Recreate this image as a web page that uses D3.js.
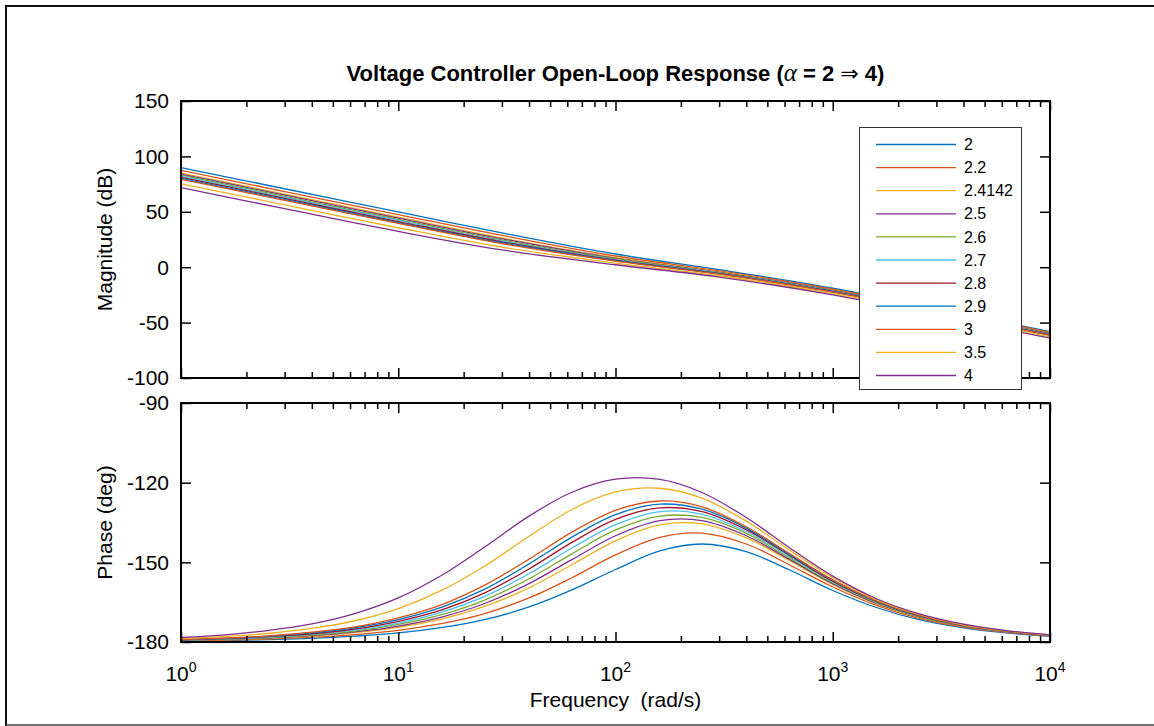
<!DOCTYPE html>
<html>
<head>
<meta charset="utf-8">
<script src="https://cdn.jsdelivr.net/npm/d3@7"></script>
<style>
  body { margin: 0; background: #fff; }
  svg text { font-family: "Liberation Sans", Arial, Helvetica, sans-serif; fill: #000; }
</style>
</head>
<body>
<div class="chart"></div>
<script>
// legend entries (alpha) and matlab default colour order
const alphas = ["2", "2.2", "2.4142", "2.5", "2.6", "2.7", "2.8", "2.9", "3", "3.5", "4"];
const colors = ["#0072BD", "#D95319", "#EDB120", "#7E2F8E", "#77AC30", "#4DBEEE",
                "#A2142F", "#0072BD", "#D95319", "#EDB120", "#7E2F8E"];

// magnitude (dB) read at these frequencies
const magFreq = [1, 3, 10, 30, 100, 300, 1000, 3000, 10000];
const mag_2    = [89.9, 70.8, 49.9, 31.0, 11.9, -2.2, -19.0, -37.3, -58.1];
const mag_2_2  = [87.4, 68.3, 47.5, 28.7, 10.1, -3.3, -19.8, -38.1, -58.9];
const mag_2_41 = [85.0, 65.9, 45.1, 26.4, 8.6, -4.2, -20.6, -38.9, -59.7];
const mag_2_5  = [84.1, 65.0, 44.2, 25.6, 8.0, -4.6, -20.9, -39.2, -60.0];
const mag_2_6  = [83.1, 64.0, 43.1, 24.6, 7.4, -4.9, -21.3, -39.5, -60.4];
const mag_2_7  = [82.1, 63.0, 42.2, 23.7, 6.9, -5.3, -21.6, -39.9, -60.7];
const mag_2_8  = [81.1, 62.1, 41.2, 22.9, 6.4, -5.7, -21.9, -40.2, -61.0];
const mag_2_9  = [80.2, 61.2, 40.3, 22.1, 5.9, -6.0, -22.2, -40.5, -61.3];
const mag_3    = [79.3, 60.3, 39.5, 21.3, 5.4, -6.3, -22.5, -40.8, -61.6];
const mag_3_5  = [75.3, 56.3, 35.6, 18.1, 3.6, -7.7, -23.9, -42.1, -62.9];
const mag_4    = [71.8, 52.8, 32.3, 15.6, 2.2, -8.9, -25.0, -43.3, -64.1];

// phase (deg) read at these frequencies
const phaseFreq = [1, 1.6, 2.5, 4, 6.3, 10, 16, 25, 40, 63, 100, 160, 250, 400, 630, 1000, 1600, 2500, 4000, 6300, 10000];
const ph_2    = [-179.7, -179.5, -179.1, -178.6, -177.8, -176.6, -174.5, -171.6, -166.8, -160.4, -152.7, -145.7, -143.1, -146.0, -152.8, -160.6, -167.1, -171.6, -174.7, -176.6, -177.9];
const ph_2_2  = [-179.6, -179.3, -178.9, -178.2, -177.2, -175.6, -173.0, -169.3, -163.4, -155.8, -147.2, -140.6, -139.0, -143.1, -150.9, -159.3, -166.3, -171.1, -174.4, -176.4, -177.7];
const ph_2_41 = [-179.4, -179.1, -178.6, -177.8, -176.5, -174.5, -171.3, -166.6, -159.6, -150.9, -141.9, -135.9, -135.5, -140.8, -149.3, -158.3, -165.7, -170.7, -174.1, -176.2, -177.6];
const ph_2_5  = [-179.4, -179.0, -178.5, -177.6, -176.2, -174.0, -170.5, -165.5, -158.0, -149.0, -140.0, -134.3, -134.3, -140.0, -148.8, -158.0, -165.5, -170.5, -174.0, -176.2, -177.6];
const ph_2_6  = [-179.3, -178.9, -178.4, -177.4, -175.9, -173.4, -169.6, -164.2, -156.2, -146.8, -137.8, -132.6, -133.1, -139.1, -148.3, -157.7, -165.3, -170.4, -173.9, -176.1, -177.6];
const ph_2_7  = [-179.3, -178.8, -178.2, -177.1, -175.5, -172.9, -168.7, -162.8, -154.3, -144.6, -135.8, -130.9, -131.9, -138.4, -147.8, -157.4, -165.1, -170.3, -173.9, -176.1, -177.5];
const ph_2_8  = [-179.2, -178.7, -178.0, -176.9, -175.1, -172.2, -167.8, -161.5, -152.5, -142.5, -133.8, -129.5, -130.9, -137.7, -147.3, -157.1, -164.9, -170.2, -173.8, -176.0, -177.5];
const ph_2_9  = [-179.2, -178.6, -177.9, -176.6, -174.7, -171.6, -166.8, -160.1, -150.6, -140.5, -132.0, -128.1, -130.0, -137.1, -147.0, -156.8, -164.8, -170.1, -173.7, -176.0, -177.5];
const ph_3    = [-179.1, -178.5, -177.7, -176.3, -174.3, -170.9, -165.8, -158.6, -148.8, -138.6, -130.4, -126.9, -129.1, -136.6, -146.6, -156.6, -164.6, -170.0, -173.7, -176.0, -177.5];
const ph_3_5  = [-178.7, -177.9, -176.8, -174.9, -172.0, -167.4, -160.4, -151.4, -140.2, -130.1, -123.5, -122.1, -125.8, -134.5, -145.3, -155.8, -164.1, -169.6, -173.5, -175.8, -177.4];
const ph_4    = [-178.3, -177.3, -175.7, -173.2, -169.3, -163.4, -154.7, -144.2, -132.6, -123.6, -118.7, -118.8, -123.7, -133.1, -144.4, -155.2, -163.8, -169.4, -173.3, -175.7, -177.3];

const magTicks = [-100, -50, 0, 50, 100, 150];
const phaseTicks = [-180, -150, -120, -90];
const freqTicks = [1, 10, 100, 1000, 10000];

const magSeries = [mag_2, mag_2_2, mag_2_41, mag_2_5, mag_2_6, mag_2_7, mag_2_8, mag_2_9, mag_3, mag_3_5, mag_4];
const phaseSeries = [ph_2, ph_2_2, ph_2_41, ph_2_5, ph_2_6, ph_2_7, ph_2_8, ph_2_9, ph_3, ph_3_5, ph_4];

const W = 1154, H = 726;
const x0 = 181, x1 = 1050;

const svg = d3.select(".chart").append("svg")
  .attr("width", W).attr("height", H)
  .style("display", "block");

svg.append("rect").attr("width", W).attr("height", H).attr("fill", "#fff");

// figure frame (top / left edges, bottom edge slightly grey)
svg.append("path").attr("d", `M6,${H}V6H${W}`)
  .attr("fill", "none").attr("stroke", "#111").attr("stroke-width", 2);
svg.append("line").attr("x1", 6).attr("x2", W).attr("y1", 725).attr("y2", 725)
  .attr("stroke", "#444").attr("stroke-width", 1.5);

const x = d3.scaleLog().domain([1, 10000]).range([x0, x1]);

// minor tick positions 2..9 in each decade
const minorTicks = [];
freqTicks.slice(0, -1).forEach(d => { for (let k = 2; k < 10; k++) minorTicks.push(d * k); });

function drawPanel(id, top, bottom, domain, yTicks, freq, series) {
  const y = d3.scaleLinear().domain(domain).range([bottom, top]);
  const g = svg.append("g");

  g.append("clipPath").attr("id", id)
    .append("rect").attr("x", x0).attr("y", top).attr("width", x1 - x0).attr("height", bottom - top);

  const line = d3.line()
    .x((d, i) => x(freq[i]))
    .y(d => y(d))
    .curve(d3.curveCatmullRom.alpha(0.5));

  g.append("g").attr("clip-path", `url(#${id})`)
    .selectAll("path")
    .data(series)
    .join("path")
    .attr("d", line)
    .attr("fill", "none")
    .attr("stroke", (d, i) => colors[i])
    .attr("stroke-width", 1.3);

  const ax = (gen, tr) => g.append("g").attr("transform", tr).call(gen)
    .call(s => s.select(".domain").remove())
    .call(s => s.selectAll("text").remove())
    .call(s => s.selectAll("line").attr("stroke", "#000").attr("stroke-width", 1.5));

  ax(d3.axisBottom(x).tickValues(freqTicks).tickSize(-10), `translate(0,${bottom})`);
  ax(d3.axisBottom(x).tickValues(minorTicks).tickSize(-6), `translate(0,${bottom})`);
  ax(d3.axisTop(x).tickValues(freqTicks).tickSize(-10), `translate(0,${top})`);
  ax(d3.axisTop(x).tickValues(minorTicks).tickSize(-6), `translate(0,${top})`);
  ax(d3.axisLeft(y).tickValues(yTicks).tickSize(-10), `translate(${x0},0)`);
  ax(d3.axisRight(y).tickValues(yTicks).tickSize(-10), `translate(${x1},0)`);

  g.append("rect")
    .attr("x", x0).attr("y", top)
    .attr("width", x1 - x0).attr("height", bottom - top)
    .attr("fill", "none").attr("stroke", "#000").attr("stroke-width", 2);

  g.append("g").selectAll("text")
    .data(yTicks)
    .join("text")
    .attr("x", x0 - 12)
    .attr("y", d => y(d))
    .attr("dy", "0.35em")
    .attr("text-anchor", "end")
    .style("font-size", "21px")
    .text(d => d);

  return y;
}

drawPanel("clipMag", 101, 378, [-100, 150], magTicks, magFreq, magSeries);
drawPanel("clipPhase", 403, 642, [-180, -90], phaseTicks, phaseFreq, phaseSeries);

// x tick labels 10^n on the lower axes
const xl = svg.append("g").selectAll("text")
  .data(freqTicks)
  .join("text")
  .attr("x", d => x(d))
  .attr("y", 681)
  .attr("text-anchor", "middle")
  .style("font-size", "21px");
xl.append("tspan").text("10");
xl.append("tspan").attr("dy", -9).style("font-size", "14px").text(d => Math.round(Math.log10(d)));

// axis labels
svg.append("text")
  .attr("transform", `translate(112,${(101 + 378) / 2}) rotate(-90)`)
  .attr("text-anchor", "middle")
  .style("font-size", "21px")
  .text("Magnitude (dB)");

svg.append("text")
  .attr("transform", `translate(112,${(403 + 642) / 2}) rotate(-90)`)
  .attr("text-anchor", "middle")
  .style("font-size", "21px")
  .text("Phase (deg)");

svg.append("text")
  .attr("x", (x0 + x1) / 2)
  .attr("y", 707)
  .attr("text-anchor", "middle")
  .style("font-size", "21px")
  .style("white-space", "pre")
  .text("Frequency  (rad/s)");

// title
const title = svg.append("text")
  .attr("x", (x0 + x1) / 2)
  .attr("y", 81)
  .attr("text-anchor", "middle")
  .style("font-size", "22px")
  .style("font-weight", "bold");
title.append("tspan").text("Voltage Controller Open-Loop Response (");
title.append("tspan").style("font-family", "'Liberation Serif', 'DejaVu Serif', serif")
  .style("font-style", "italic").style("font-weight", "normal").style("font-size", "25px").text("\u03b1");
title.append("tspan").text(" = 2 ");
title.append("tspan").style("font-family", "'DejaVu Sans', sans-serif").style("font-weight", "normal")
  .style("font-size", "22px").text("\u21d2");
title.append("tspan").text(" 4)");

// legend
const lg = svg.append("g");
lg.append("rect")
  .attr("x", 859.5).attr("y", 127.5)
  .attr("width", 162).attr("height", 262)
  .attr("fill", "#fff").attr("stroke", "#333").attr("stroke-width", 1);

const rowY = d3.scaleLinear().domain([0, alphas.length - 1]).range([144.5, 375.5]);
const rows = lg.selectAll("g.row")
  .data(alphas)
  .join("g")
  .attr("class", "row")
  .attr("transform", (d, i) => `translate(0,${rowY(i)})`);
rows.append("line")
  .attr("x1", 876).attr("x2", 956)
  .attr("stroke", (d, i) => colors[i])
  .attr("stroke-width", 1.3);
rows.append("text")
  .attr("x", 964)
  .attr("dy", "0.35em")
  .style("font-size", "16px")
  .text(d => d);
</script>
</body>
</html>
